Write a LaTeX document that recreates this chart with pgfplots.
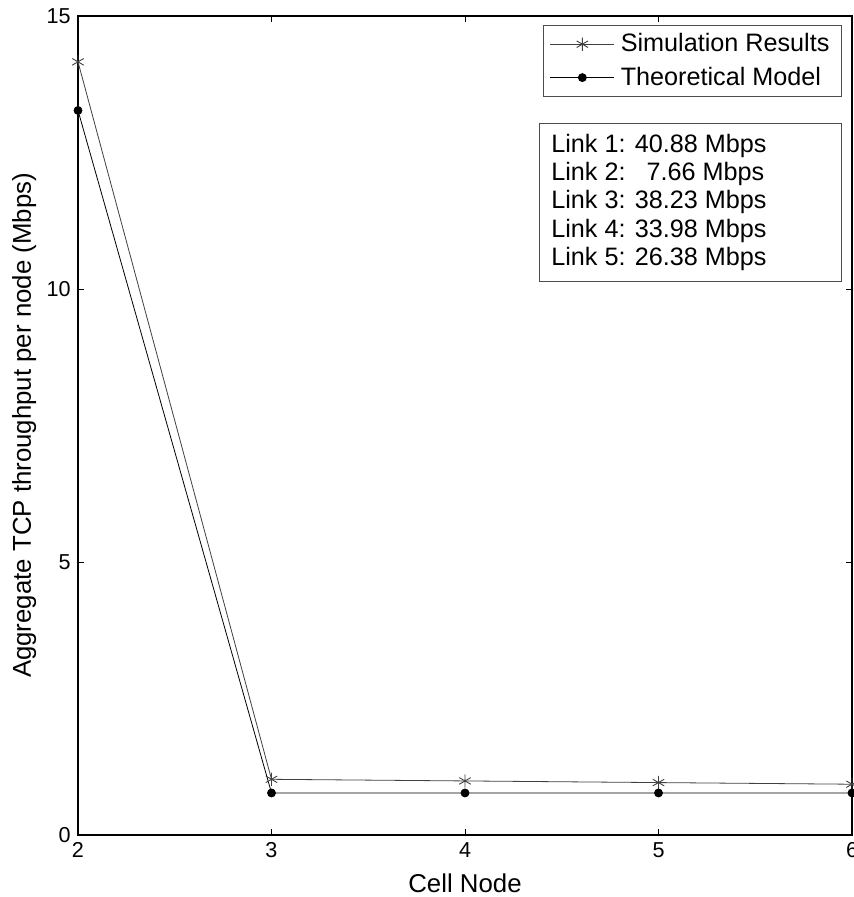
\documentclass[border=0pt]{standalone}
\usepackage{pgfplots}
\pgfplotsset{compat=1.18}
\usepackage{fontspec}
\setmainfont{Liberation Sans}
\begin{document}
\fontsize{10.5}{12.6}\selectfont
\begin{tikzpicture}
\useasboundingbox (-39pt,-31pt) rectangle (388pt,417.5pt);
\begin{axis}[
  at={(0,0)}, anchor=south west,
  scale only axis,
  width=387pt, height=409.5pt,
  xmin=2, xmax=6, ymin=0, ymax=15,
  xtick={2,3,4,5,6}, ytick={0,5,10,15},
  tick align=inside,
  major tick length=3pt,
  axis line style={line width=0.8pt},
  tick style={line width=0.4pt, black},
  /pgf/number format/assume math mode=true,
  ticklabel style={font=\fontsize{10.8}{12}\selectfont},
  xlabel={Cell Node},
  ylabel={Aggregate TCP throughput per node (Mbps)},
  label style={font=\fontsize{12.9}{14}\selectfont},
  xlabel style={yshift=-1pt},
  ylabel style={yshift=-2pt},
  legend style={at={(0.987,0.989)}, anchor=north east, draw=black!70, line width=0.5pt,
    font=\fontsize{12.6}{14}\selectfont, row sep=2pt, inner xsep=3pt, inner ysep=2pt,
    nodes={inner xsep=3pt, inner ysep=2pt}},
  legend cell align=left,
  legend image code/.code={
    \draw[#1] (0pt,0pt) -- (32pt,0pt);
    \draw[#1, only marks] plot coordinates {(16pt,0pt)};
  },
]
\addplot[color=black!75, line width=0.4pt, mark=asterisk, mark size=3.3pt, mark options={line width=0.45pt}]
  coordinates {(2,14.16) (3,1.02) (4,0.99) (5,0.96) (6,0.93)};
\addlegendentry{Simulation Results}
\addplot[color=black, line width=0.4pt, mark=*, mark size=2pt]
  coordinates {(2,13.27) (3,0.77) (4,0.77) (5,0.77) (6,0.77)};
\addlegendentry{Theoretical Model}
\draw[draw=black!70, line width=0.5pt, fill=white] (rel axis cs:0.596,0.869) rectangle (rel axis cs:0.987,0.676);
\node[anchor=west, align=left, inner sep=0pt, font=\fontsize{12.6}{14.2}\selectfont] at (rel axis cs:0.611,0.7725) {Link 1: 40.88 Mbps\\Link 2:\ \ \ 7.66 Mbps\\Link 3: 38.23 Mbps\\Link 4: 33.98 Mbps\\Link 5: 26.38 Mbps};
\end{axis}
\end{tikzpicture}
\end{document}
